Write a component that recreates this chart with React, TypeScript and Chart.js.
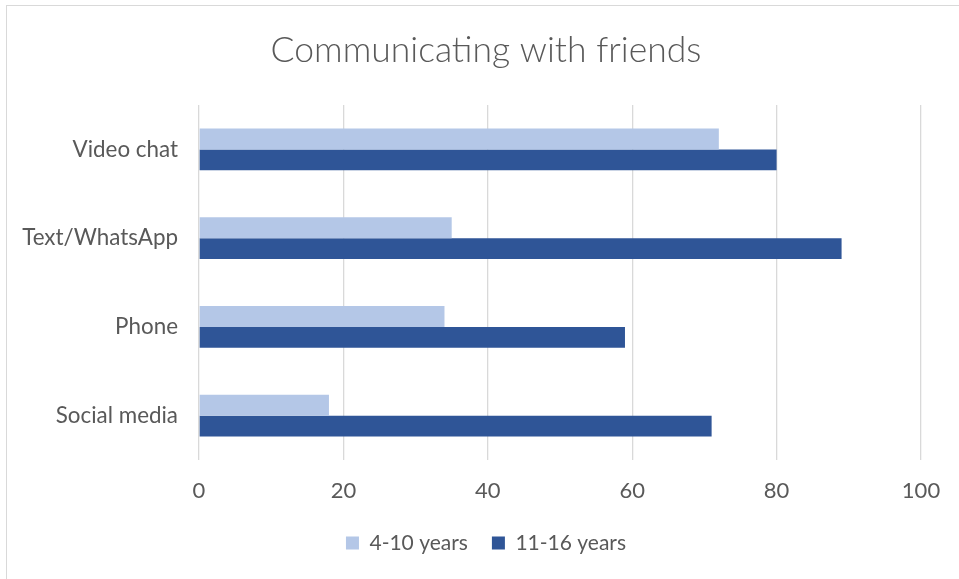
import React, { useEffect, useRef } from "react";
import { Chart, registerables } from "chart.js";

Chart.register(...registerables);

const categories = ["Video chat", "Text/WhatsApp", "Phone", "Social media"];
const seriesNames = ["4-10 years", "11-16 years"];
const youngerValues = [72, 35, 34, 18];
const olderValues = [80, 89, 59, 71];
const xTicks = [0, 20, 40, 60, 80, 100];

const FONT = "Lato, 'Noto Sans', sans-serif";
const TEXT = "#595959";
const GRID = "#d9d9d9";

export default function App() {
  const ref = useRef<HTMLCanvasElement | null>(null);

  useEffect(() => {
    if (!ref.current) return;
    const chart = new Chart(ref.current, {
      type: "bar",
      data: {
        labels: categories,
        datasets: [
          {
            label: seriesNames[0],
            data: youngerValues,
            backgroundColor: "#B4C7E7",
            borderWidth: 0,
            categoryPercentage: 0.47,
            barPercentage: 1,
          },
          {
            label: seriesNames[1],
            data: olderValues,
            backgroundColor: "#2F5597",
            borderWidth: 0,
            categoryPercentage: 0.47,
            barPercentage: 1,
          },
        ],
      },
      options: {
        indexAxis: "y",
        animation: false,
        responsive: false,
        maintainAspectRatio: false,
        layout: { padding: { top: 0, left: 13, right: 0, bottom: 15.5 } },
        plugins: {
          title: {
            display: true,
            text: "Communicating with friends",
            color: TEXT,
            font: { family: FONT, size: 35.5, weight: "300", lineHeight: 1.2 },
            padding: { top: 29.5, bottom: 32.9 },
          },
          legend: {
            position: "bottom",
            labels: {
              color: TEXT,
              font: { family: FONT, size: 21 },
              boxWidth: 13,
              boxHeight: 13,
              padding: 24,
            },
          },
          tooltip: { enabled: false },
        },
        scales: {
          x: {
            min: 0,
            max: 100,
            afterBuildTicks: (scale: any) => {
              scale.ticks = xTicks.map((v) => ({ value: v }));
            },
            afterFit: (scale: any) => {
              scale.height = 48.5;
            },
            grid: { color: GRID, lineWidth: 1.3, drawTicks: false },
            border: { display: false },
            ticks: {
              color: TEXT,
              font: { family: FONT, size: 22 },
              padding: 18,
              maxRotation: 0,
            },
          },
          y: {
            afterFit: (scale: any) => {
              scale.width = 186;
            },
            grid: { display: false, drawTicks: false },
            border: { display: false },
            ticks: {
              color: TEXT,
              font: { family: FONT, size: 22.4 },
              padding: 21,
            },
          },
          yRight: {
            type: "category",
            position: "right",
            display: true,
            afterFit: (scale: any) => {
              scale.width = 38;
            },
            grid: { display: false, drawTicks: false },
            border: { display: false },
            ticks: { display: false },
          },
        },
      },
    });
    return () => chart.destroy();
  }, []);

  return (
    <div
      style={{
        position: "fixed",
        left: 0,
        top: 0,
        width: 959,
        height: 579,
        overflow: "hidden",
        background: "#fff",
      }}
    >
      <div
        style={{
          position: "absolute",
          left: 6,
          top: 5,
          width: 1200,
          height: 800,
          border: "1.5px solid #d9d9d9",
          boxSizing: "border-box",
        }}
      />
      <canvas
        ref={ref}
        width={959}
        height={579}
        style={{ position: "absolute", left: 0, top: 0, width: 959, height: 579 }}
      />
    </div>
  );
}
